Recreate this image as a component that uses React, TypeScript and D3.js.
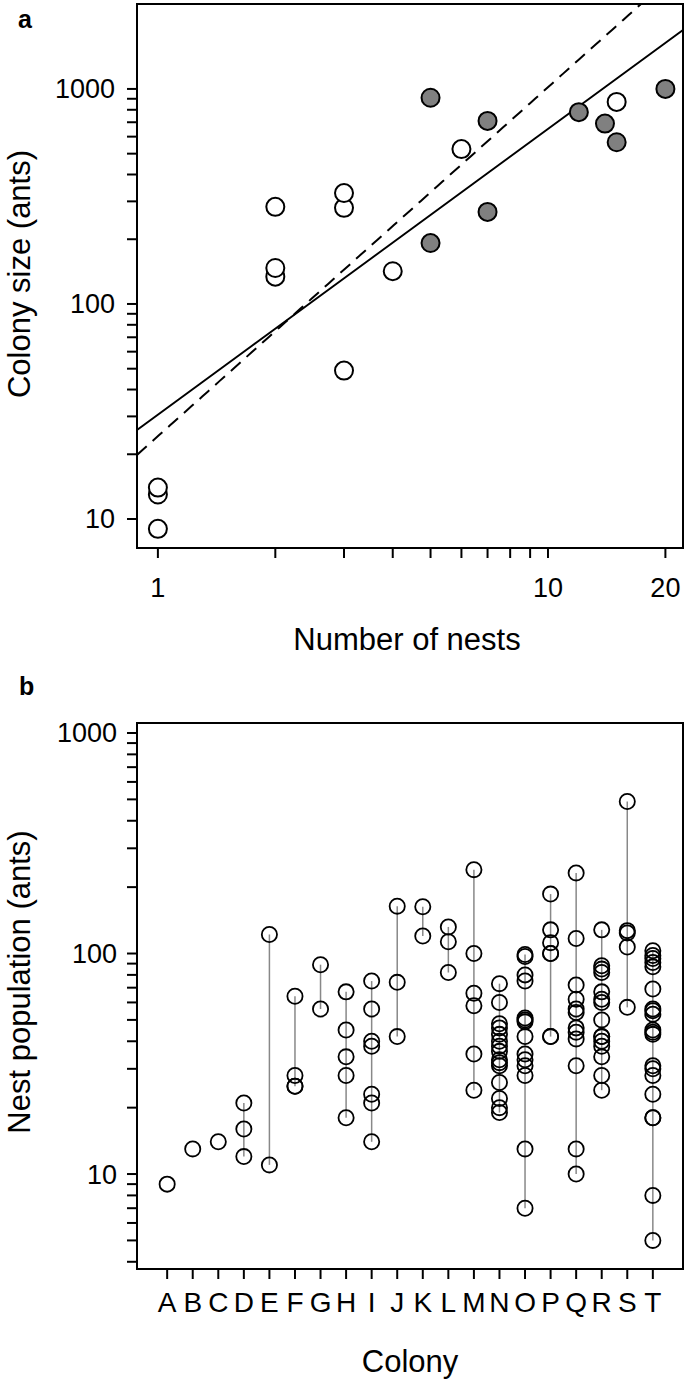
import React from 'react';
import * as d3 from 'd3';

// panel a: colony size vs number of nests
const nestCount = [1, 1, 1, 3, 2, 4, 2, 5, 7, 3, 2, 3, 6, 15, 14, 7, 12, 15, 5, 20];
const colonySize = [9, 13, 14, 49, 134, 142, 147, 192, 268, 280, 283, 328, 525, 565, 690, 710, 780, 870, 910, 1000];
const filled = [false, false, false, false, false, false, false, true, true, false, false, false, false, true, true, true, true, false, true, true];
// fitted lines in log10 space: log(size) = a + b * log(nests)
const fitIntercepts = [1.485, 1.385];
const fitSlopes = [1.329, 1.623];
const fitDash = ['', '13,8'];

// panel b: nest populations per colony
const colonies = ['A', 'B', 'C', 'D', 'E', 'F', 'G', 'H', 'I', 'J', 'K', 'L', 'M', 'N', 'O', 'P', 'Q', 'R', 'S', 'T'];
const nestPops = [
  [9],
  [13],
  [14],
  [21, 16, 12],
  [122, 11],
  [64, 28, 25, 25],
  [89, 56],
  [67, 45, 34, 28, 18],
  [75, 56, 40, 38, 23, 21, 14],
  [164, 74, 42],
  [163, 120],
  [132, 113, 82],
  [240, 100, 66, 58, 35, 24],
  [73, 60, 48, 46, 43, 40, 38, 36, 33, 32, 31, 26, 22, 20, 19],
  [99, 97, 80, 75, 51, 50, 49, 42, 35, 33, 31, 28, 13, 7],
  [186, 128, 112, 100, 100, 42, 42],
  [232, 117, 72, 62, 56, 54, 46, 44, 41, 31, 13, 10],
  [128, 88, 85, 82, 67, 62, 60, 50, 42, 42, 40, 38, 34, 28, 24],
  [489, 127, 124, 107, 57],
  [103, 98, 95, 91, 87, 69, 56, 55, 53, 45, 44, 43, 31, 30, 28, 23, 18, 18, 8, 5],
];

const aXTicks = [1, 2, 3, 4, 5, 6, 7, 8, 9, 10, 20];
const aXLabels = [1, 10, 20];
const aYTicks = [10, 20, 30, 40, 50, 60, 70, 80, 90, 100, 200, 300, 400, 500, 600, 700, 800, 900, 1000];
const bYTicks = [4, 5, 6, 7, 8, 9, 10, 20, 30, 40, 50, 60, 70, 80, 90, 100, 200, 300, 400, 500, 600, 700, 800, 900, 1000];
const yLabels = [10, 100, 1000];

const W = 685;
const H = 1383;
const FONT = '"Liberation Sans", Arial, sans-serif';
const TICK = 10;

export default function App() {
  const left = 137;
  const right = 683;

  // panel a
  const aTop = 4;
  const aBottom = 548;
  const ax = d3.scaleLog().domain([0.884, 22.19]).range([left, right]);
  const ay = d3.scaleLog().domain([7.33, 2483]).range([aBottom, aTop]);

  const fitLines = fitIntercepts.map((a, i) => {
    const [x0, x1] = ax.domain();
    const pts: [number, number][] = d3.range(0, 101).map((k) => {
      const lx = Math.log10(x0) + (Math.log10(x1) - Math.log10(x0)) * (k / 100);
      return [10 ** lx, 10 ** (a + fitSlopes[i] * lx)];
    });
    return pts;
  });
  const line = d3.line<[number, number]>().x((d) => ax(d[0])).y((d) => ay(d[1]));

  // panel b
  const bTop = 723;
  const bBottom = 1269;
  const bx = d3.scaleLinear().domain([-1.18, 20.18]).range([left, right]);
  const by = d3.scaleLog().domain([3.71, 1110]).range([bBottom, bTop]);

  return (
    <svg width={W} height={H} style={{ position: 'absolute', left: 0, top: 0, background: '#fff' }} fontFamily={FONT}>
      <rect width={W} height={H} fill="#fff" />

      {/* ---------- panel a ---------- */}
      <text x={18} y={28} fontSize={25} fontWeight="bold">a</text>
      <defs>
        <clipPath id="clipA">
          <rect x={left} y={aTop} width={right - left} height={aBottom - aTop} />
        </clipPath>
      </defs>
      <g clipPath="url(#clipA)">
        {fitLines.map((pts, i) => (
          <path key={i} d={line(pts) || ''} fill="none" stroke="#000" strokeWidth={2} strokeDasharray={fitDash[i]} />
        ))}
      </g>
      {nestCount.map((n, i) => (
        <circle key={i} cx={ax(n)} cy={ay(colonySize[i])} r={9} fill={filled[i] ? '#808080' : '#fff'} stroke="#000" strokeWidth={2} />
      ))}
      <rect x={left} y={aTop} width={right - left} height={aBottom - aTop} fill="none" stroke="#000" strokeWidth={2} />
      {aYTicks.map((t) => (
        <line key={t} x1={left - TICK} x2={left} y1={ay(t)} y2={ay(t)} stroke="#000" strokeWidth={2} />
      ))}
      {yLabels.map((t) => (
        <text key={t} x={115} y={ay(t) + 9.5} fontSize={27} textAnchor="end">{t}</text>
      ))}
      {aXTicks.map((t) => (
        <line key={t} x1={ax(t)} x2={ax(t)} y1={aBottom} y2={aBottom + TICK} stroke="#000" strokeWidth={2} />
      ))}
      {aXLabels.map((t) => (
        <text key={t} x={ax(t)} y={597} fontSize={27} textAnchor="middle">{t}</text>
      ))}
      <text x={407} y={650} fontSize={31} textAnchor="middle">Number of nests</text>
      <text transform={`translate(30,274) rotate(-90)`} fontSize={31} textAnchor="middle">Colony size (ants)</text>

      {/* ---------- panel b ---------- */}
      <text x={19} y={695} fontSize={25} fontWeight="bold">b</text>
      {nestPops.map((pops, i) => (
        <g key={colonies[i]}>
          {pops.length > 1 && (
            <line x1={bx(i)} x2={bx(i)} y1={by(d3.max(pops) as number)} y2={by(d3.min(pops) as number)} stroke="#888" strokeWidth={1.5} />
          )}
          {pops.map((p, j) => (
            <circle key={j} cx={bx(i)} cy={by(p)} r={7.6} fill="none" stroke="#000" strokeWidth={1.8} />
          ))}
        </g>
      ))}
      <rect x={left} y={bTop} width={right - left} height={bBottom - bTop} fill="none" stroke="#000" strokeWidth={2} />
      {bYTicks.map((t) => (
        <line key={t} x1={left - TICK} x2={left} y1={by(t)} y2={by(t)} stroke="#000" strokeWidth={2} />
      ))}
      {yLabels.map((t) => (
        <text key={t} x={117} y={by(t) + 9.5} fontSize={27} textAnchor="end">{t}</text>
      ))}
      {colonies.map((c, i) => (
        <g key={c}>
          <line x1={bx(i)} x2={bx(i)} y1={bBottom} y2={bBottom + TICK} stroke="#000" strokeWidth={2} />
          <text x={bx(i)} y={1312} fontSize={28} textAnchor="middle">{c}</text>
        </g>
      ))}
      <text x={(left + right) / 2} y={1372} fontSize={31} textAnchor="middle">Colony</text>
      <text transform={`translate(30,982) rotate(-90)`} fontSize={31} textAnchor="middle">Nest population (ants)</text>
    </svg>
  );
}
